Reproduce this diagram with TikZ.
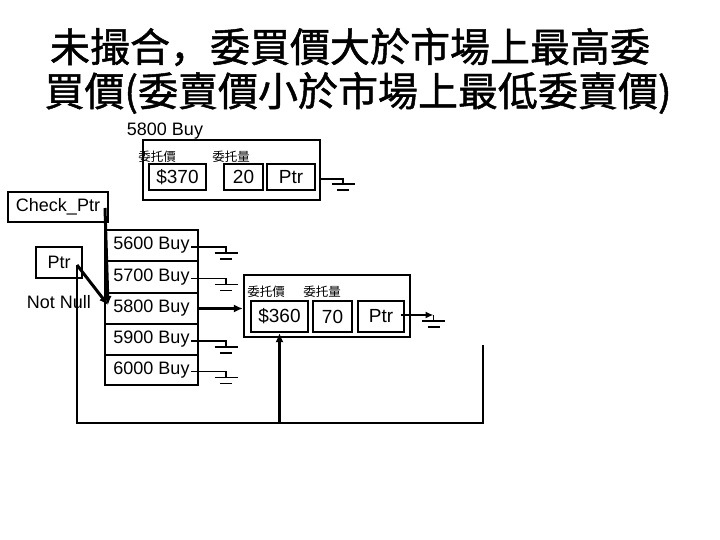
\documentclass[tikz,border=0pt]{standalone}
\usepackage{fontspec}
\setmainfont{Liberation Sans}
\newfontfamily\cjk{Noto Sans CJK TC}
\newfontfamily\cjkt{Noto Sans CJK TC}[FakeBold=1.2]
\newfontfamily\cjkc{Noto Sans CJK SC}[FakeBold=1.2]
\usetikzlibrary{arrows.meta}
\tikzset{
  gnd/.pic={\draw[line width=1.7pt] (-11.5,0)--(11.5,0) (-6,6)--(6,6);},
}
\begin{document}
\begin{tikzpicture}[x=1pt,y=-1pt,
  box/.style={draw,line width=2.2pt,inner sep=0,font=\fontsize{18}{20}\selectfont},
  val/.style={box,minimum height=26,font=\fontsize{19}{21}\selectfont},
  lbl/.style={inner sep=0,font=\fontsize{18}{20}\selectfont},
  small/.style={inner sep=0,font=\cjk\fontsize{12.5}{14}\selectfont},
  wire/.style={line width=1.7pt},
  bigarrow/.style={line width=3pt,-{Latex[length=9pt,width=8pt]}},
  link/.style={line width=2.6pt},
  title/.style={inner sep=0,font=\cjkt\fontsize{40}{48}\selectfont},
]
\useasboundingbox (0,0) rectangle (720,540);

% title
\node[title] (t1) at (350,47) {未撮合{\cjkc ，}委買價大於市場上最高委};
\node[title] (t2) at (358,93) {買價(委賣價小於市場上最低委賣價)};

% record 1 (5800 Buy)
\node[lbl] (h1) at (165,131) {5800 Buy};
\node[box,minimum width=177,minimum height=60] (rec1) at (231.5,170) {};
\node[small] (l1a) at (157,157) {委托價};
\node[small] (l1b) at (231,157) {委托量};
\node[val,minimum width=57] (p1) at (177.5,177) {\$370};
\node[val,minimum width=39] (q1) at (243.5,177) {20};
\node[val,minimum width=48] (n1) at (291,177) {Ptr};
\coordinate (g1) at (343,179);
\draw[wire] (rec1.east |- g1) -- (g1) -- ++(0,5);
\pic at (343,184) {gnd};

% Check_Ptr and Ptr
\node[box,minimum width=100,minimum height=30] (cp) at (58,207) {Check\_Ptr};
\node[box,minimum width=46,minimum height=31] (ptr) at (59,262.5) {Ptr};
\node[lbl] (nn) at (59,302) {Not Null};

% list
\node[box,minimum width=93,minimum height=31] (r1) at (151.5,245.5) {5600 Buy};
\node[box,minimum width=93,minimum height=31.5] (r2) at (151.5,277) {5700 Buy};
\node[box,minimum width=93,minimum height=31.5] (r3) at (151.5,308.5) {5800 Buy};
\node[box,minimum width=93,minimum height=31] (r4) at (151.5,339.5) {5900 Buy};
\node[box,minimum width=93,minimum height=30] (r5) at (151.5,370) {6000 Buy};

\foreach \r in {r1,r2,r4,r5}{
  \draw[wire] ([xshift=-8pt,yshift=-1.5pt]\r.east) -- ++(35,0) -- ++(0,6);
  \pic at ([xshift=27pt,yshift=-7.5pt]\r.east) {gnd};
}

% record 2
\node[box,minimum width=166,minimum height=62] (rec2) at (327,306) {};
\node[small] (l2a) at (266,292) {委托價};
\node[small] (l2b) at (322,292) {委托量};
\node[val,minimum width=57,minimum height=31] (p2) at (279.5,316.5) {\$360};
\node[val,minimum width=39,minimum height=31] (q2) at (332.5,316.5) {70};
\node[val,minimum width=46,minimum height=31] (n2) at (381,316.5) {Ptr};
\coordinate (g2) at (433.5,315);
\draw[line width=2.6pt,-{Latex[length=8pt,width=7pt]}] ([xshift=-4pt,yshift=1.5pt]n2.east) -- (g2);
\draw[wire] (g2) -- ++(0,6);
\pic at (433.5,321) {gnd};

% pointers
\coordinate (cps) at (105,208);
\coordinate (ps) at (77,265);
\coordinate (hit) at (108,305);
\draw[bigarrow] (cps) -- (hit);
\draw[bigarrow] (ps) -- (hit);
\draw[bigarrow] ([xshift=-1pt]r3.east) -- (rec2.west |- r3.east);

% loop
\coordinate (bl) at (77,423);
\coordinate (br) at (483,423);
\coordinate (be) at (483,345);
\draw[link] (ps) -- (bl) -- (br) -- (be);
\draw[link,-{Latex[length=9pt,width=8pt]}] (p2.south |- bl) -- (p2.south);
\end{tikzpicture}
\end{document}
